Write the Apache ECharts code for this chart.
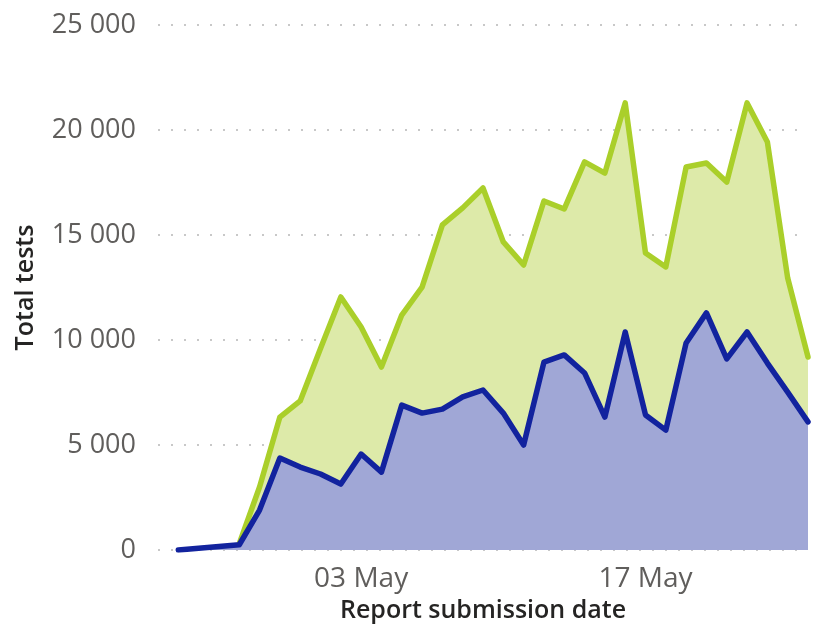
<!DOCTYPE html>
<html>
<head>
<meta charset="utf-8">
<script src="https://cdn.jsdelivr.net/npm/echarts@6/dist/echarts.min.js"></script>
<style>
  html, body { margin: 0; padding: 0; background: #fff; }
  #chart { width: 820px; height: 631px; }
</style>
</head>
<body>
<div id="chart"></div>
<script>
// report submission dates, 24 Apr .. 25 May
const dates = [
  '24 Apr', '25 Apr', '26 Apr', '27 Apr', '28 Apr', '29 Apr', '30 Apr',
  '01 May', '02 May', '03 May', '04 May', '05 May', '06 May', '07 May',
  '08 May', '09 May', '10 May', '11 May', '12 May', '13 May', '14 May',
  '15 May', '16 May', '17 May', '18 May', '19 May', '20 May', '21 May',
  '22 May', '23 May', '24 May', '25 May'
]
// total tests (green)
const totalTests = [
  null, null, null, 300, 3000, 6330, 7100, 9600, 12050, 10620, 8710,
  11190, 12520, 15480, 16290, 17240, 14670, 13570, 16620, 16240, 18480,
  17950, 21290, 14140, 13480, 18240, 18430, 17520, 21290, 19430, 12950, 9190
]
// subset (blue)
const subsetTests = [
  0, 80, 170, 250, 1900, 4380, 3950, 3620, 3140, 4570, 3710,
  6900, 6520, 6710, 7290, 7620, 6520, 5000, 8950, 9290, 8430,
  6330, 10380, 6430, 5710, 9860, 11290, 9100, 10380, 8900, 7520, 6100
]
const xLabelDays = ['03 May', '17 May']
const yTicks = [0, 5000, 10000, 15000, 20000, 25000]

const toPairs = arr => arr.map((v, i) => [i, v])
const fmt = v => String(v).replace(/\B(?=(\d{3})+(?!\d))/g, ' ')

let chart = echarts.init(document.getElementById('chart'))
let option = {
  animation: false,
  grid: { left: 158, right: 12, top: 25, bottom: 81, outerBoundsMode: 'none' },
  xAxis: {
    type: 'value',
    min: -1,
    max: dates.length - 1,
    name: 'Report submission date',
    nameLocation: 'middle',
    nameGap: 48,
    nameTextStyle: { fontFamily: 'Open Sans', fontSize: 25, fontWeight: 600, color: '#252423' },
    axisLine: { show: false },
    axisTick: { show: false },
    splitLine: { show: false },
    axisLabel: {
      customValues: xLabelDays.map(d => dates.indexOf(d)),
      formatter: v => dates[v],
      margin: 15,
      fontFamily: 'Open Sans',
      fontSize: 28,
      color: '#605E5C'
    }
  },
  yAxis: {
    type: 'value',
    min: 0,
    max: 25000,
    interval: 5000,
    name: 'Total tests',
    nameLocation: 'middle',
    nameGap: 120,
    nameTextStyle: { fontFamily: 'Open Sans', fontSize: 25, fontWeight: 600, color: '#252423' },
    axisLine: { show: false },
    axisTick: { show: false },
    axisLabel: {
      formatter: v => yTicks.includes(v) ? fmt(v) : '',
      margin: 22,
      fontFamily: 'Open Sans',
      fontSize: 27,
      color: '#605E5C'
    },
    splitLine: {
      lineStyle: { color: '#C8C8C8', width: 2, type: [2, 11] }
    }
  },
  series: [
    {
      type: 'line',
      data: toPairs(totalTests),
      showSymbol: false,
      connectNulls: false,
      lineStyle: { color: '#AACF2A', width: 5.5, join: 'round', cap: 'round' },
      areaStyle: { color: '#DDEAA9', opacity: 1 },
      z: 2
    },
    {
      type: 'line',
      data: toPairs(subsetTests),
      showSymbol: false,
      lineStyle: { color: '#12239E', width: 5.5, join: 'round', cap: 'round' },
      areaStyle: { color: '#A0A7D6', opacity: 1 },
      z: 3
    }
  ]
}
chart.setOption(option)
</script>
</body>
</html>
